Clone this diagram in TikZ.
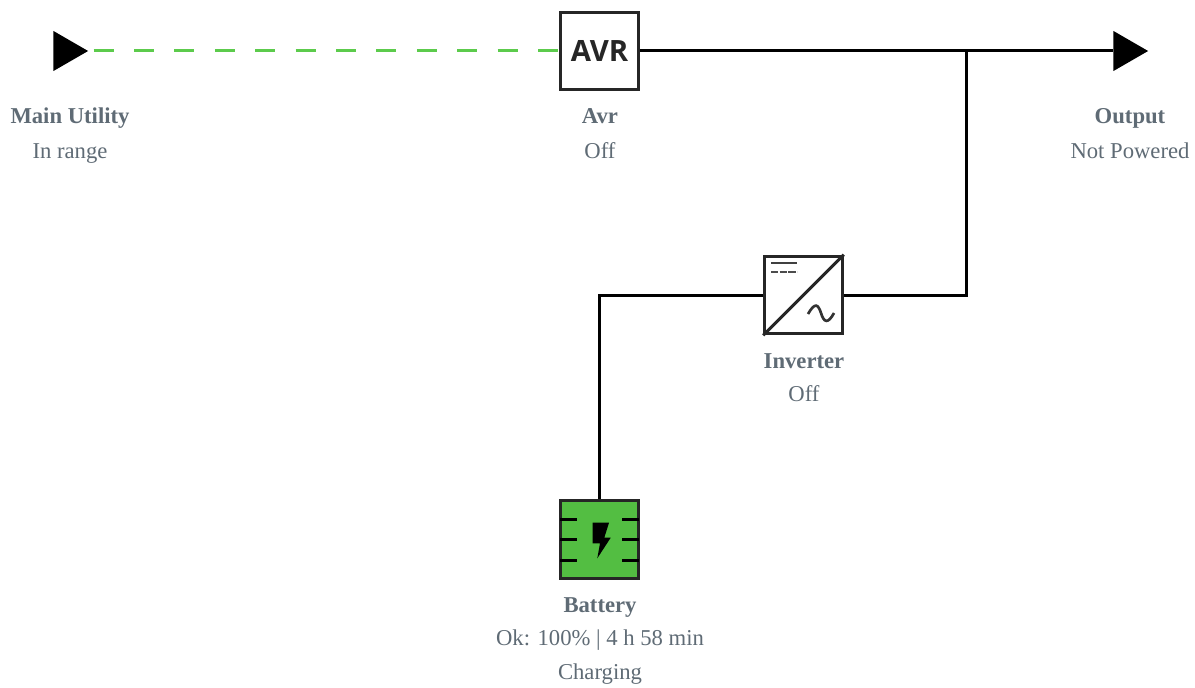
\documentclass[tikz,border=0pt]{standalone}
\usepackage{fontspec}
\setmainfont{Liberation Serif}
\newfontfamily\avrfont{Open Sans}
\usepackage{xcolor}
\usetikzlibrary{shapes.geometric}
\definecolor{lblgray}{HTML}{5F6B75}
\definecolor{batgreen}{HTML}{53BE42}
\definecolor{dashgreen}{HTML}{5CCB4C}

\begin{document}
\begin{tikzpicture}[x=0.75pt, y=-0.75pt]
\tikzset{wire/.style={line width=2.25pt, color=black},
  box/.style={draw=black!85, line width=2.25pt, minimum size=58.2pt, inner sep=0pt, fill=white},
  tip/.style={isosceles triangle, isosceles triangle apex angle=60, fill=black, inner sep=0pt, minimum height=26pt, minimum width=30pt},
  lbl/.style={font=\fontsize{17}{20}\selectfont, color=lblgray, inner sep=0pt, anchor=base},
  lblb/.style={lbl, font=\fontsize{17}{20}\selectfont\bfseries}}
\useasboundingbox (0,0) rectangle (1195,688);
 \node [tip] (main) at (65,51) {};
 \node [tip] (out) at (1125,51) {};
 \node [box, font=\avrfont\bfseries\fontsize{22}{26}\selectfont, text=black!85] (avr) at (599.5,51) {AVR};
 \node [box] (inv) at (803.5,295) {};
 \node [box, fill=batgreen] (bat) at (599.5,539.5) {};
 \coordinate (jn) at (966,51);
 \draw [wire, line width=2.25pt, color=dashgreen, dash pattern=on 15pt off 15.3pt, shorten <=3.75pt] (main) -- (avr);
 \draw [wire] (avr) -- (out);
 \draw [wire] (jn) |- (inv);
 \draw [wire] (inv) -| (bat);
 % inverter symbols
 \draw [line width=2.25pt, color=black!85] (inv.south west) -- (inv.north east);
 \draw [line width=1.9pt, color=black!75] (771,263) -- (797,263);
 \draw [line width=1.9pt, color=black!70, dash pattern=on 5.6pt off 0.9pt] (771,272) -- (797,272);
 \draw [line width=2pt, color=black!80] (808,314) .. controls (815,302) and (818,304) .. (821,313) .. controls (824,323) and (828,324) .. (834,313);
 % battery symbols
 \foreach \y in {519,539,560} {
  \draw [line width=2.25pt] (560,\y) -- (577,\y);
  \draw [line width=2.25pt] (622,\y) -- (639,\y);
 }
 \fill (592.7,522.7) -- (609,522.7) -- (604.3,537.7) -- (610.7,537.7) -- (597.3,558.3) -- (600,543.3) -- (592.7,543.3) -- cycle;
 % labels
 \node [lblb] (mainname) at (70,123.5) {Main Utility};
 \node [lbl] (mainstate) at (70,159) {In range};
 \node [lblb] (avrname) at (600,123.5) {Avr};
 \node [lbl] (avrstate) at (600,159) {Off};
 \node [lblb] (outname) at (1130,123.5) {Output};
 \node [lbl] (outstate) at (1130,159) {Not Powered};
 \node [lblb] (invname) at (804,368) {Inverter};
 \node [lbl] (invstate) at (804,401) {Off};
 \node [lblb] (batname) at (600,612.5) {Battery};
 \node [lbl] (batcharge) at (600,645.5) {Ok: 100\% | 4 h 58 min};
 \node [lbl] (batstate) at (600,679) {Charging};
\end{tikzpicture}
\end{document}
